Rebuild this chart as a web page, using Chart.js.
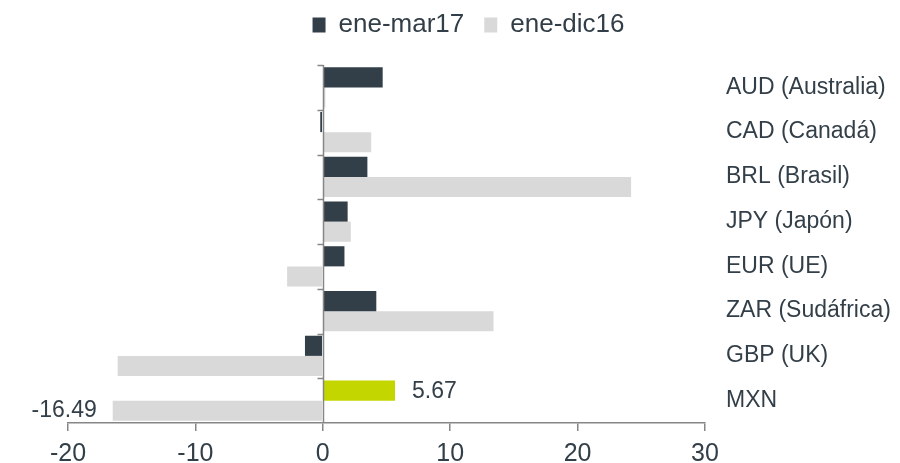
<!DOCTYPE html>
<html>
<head>
<meta charset="utf-8">
<script src="https://cdn.jsdelivr.net/npm/chart.js@4/dist/chart.umd.min.js"></script>
<style>
  html, body { margin: 0; padding: 0; background: #ffffff; }
  #wrap { width: 900px; height: 463px; }
</style>
</head>
<body>
<div id="wrap"><canvas id="c" width="900" height="463"></canvas></div>
<script>
const categories = ['AUD (Australia)', 'CAD (Canadá)', 'BRL (Brasil)', 'JPY (Japón)', 'EUR (UE)', 'ZAR (Sudáfrica)', 'GBP (UK)', 'MXN'];
const seriesNames = ['ene-mar17', 'ene-dic16'];
const eneMar17 = [4.7, -0.2, 3.5, 1.95, 1.7, 4.2, -1.4, 5.67];
const eneDic16 = [0.2, 3.8, 24.2, 2.2, -2.8, 13.4, -16.1, -16.49];
const xTicks = [-20, -10, 0, 10, 20, 30];
const labelledPoints = [{ dataset: 0, index: 7 }, { dataset: 1, index: 7 }];

const DARK = '#333f48';
const LIGHT = '#d9d9d9';
const GREEN = '#c4d600';
const AXIS = '#868686';
const TEXT = '#333f48';
const FONT = 'Liberation Sans, Arial, sans-serif';

const darkColors = categories.map(c => c === 'MXN' ? GREEN : DARK);

const zeroAxisPlugin = {
  id: 'zeroAxis',
  afterDatasetsDraw(chart) {
    const { ctx, chartArea, scales } = chart;
    const x0 = Math.round(scales.x.getPixelForValue(0)) + 0.5;
    const n = categories.length;
    const h = (chartArea.bottom - chartArea.top) / n;
    ctx.save();
    ctx.strokeStyle = AXIS;
    ctx.lineWidth = 1.5;
    ctx.beginPath();
    ctx.moveTo(x0, chartArea.top);
    ctx.lineTo(x0, chartArea.bottom);
    for (let i = 0; i < n; i++) {
      const y = Math.round(chartArea.top + i * h) + 0.5;
      ctx.moveTo(x0 - 6, y);
      ctx.lineTo(x0, y);
    }
    ctx.stroke();
    ctx.restore();
  },
  afterDraw(chart) {
    const { ctx } = chart;
    ctx.save();
    ctx.font = '23px ' + FONT;
    ctx.fillStyle = TEXT;
    ctx.textBaseline = 'middle';
    labelledPoints.forEach(p => {
      const meta = chart.getDatasetMeta(p.dataset);
      const el = meta.data[p.index];
      const v = chart.data.datasets[p.dataset].data[p.index];
      const txt = v.toFixed(2);
      if (v >= 0) {
        ctx.textAlign = 'left';
        ctx.fillText(txt, el.x + 17, el.y + 1);
      } else {
        ctx.textAlign = 'right';
        ctx.fillText(txt, el.x - 16, el.y);
      }
    });
    ctx.restore();
  }
};

new Chart(document.getElementById('c'), {
  type: 'bar',
  data: {
    labels: categories,
    datasets: [
      { label: seriesNames[0], data: eneMar17, backgroundColor: darkColors, borderWidth: 0 },
      { label: seriesNames[1], data: eneDic16, backgroundColor: LIGHT, borderWidth: 0 }
    ]
  },
  options: {
    indexAxis: 'y',
    responsive: false,
    animation: false,
    devicePixelRatio: 1,
    layout: { padding: { left: 44, right: 7, top: -8, bottom: 0 } },
    datasets: { bar: { categoryPercentage: 0.9, barPercentage: 1.0 } },
    plugins: {
      legend: {
        position: 'top',
        weight: 3000,
        labels: {
          color: TEXT,
          font: { family: FONT, size: 26 },
          boxWidth: 13,
          boxHeight: 15,
          padding: 20
        }
      },
      title: {
        display: true,
        text: '',
        font: { size: 1, lineHeight: 1 },
        padding: { top: 0, bottom: 16 }
      },
      tooltip: { enabled: false }
    },
    scales: {
      x: {
        type: 'linear',
        min: -20,
        max: 30,
        afterBuildTicks(axis) { axis.ticks = xTicks.map(v => ({ value: v })); },
        afterFit(axis) { axis.height = 40; axis.paddingLeft = 68; },
        grid: { display: true, drawOnChartArea: false, drawTicks: true, tickLength: 8, color: AXIS, lineWidth: 1.5 },
        border: { display: true, color: AXIS, width: 1.5 },
        ticks: { color: TEXT, font: { family: FONT, size: 25 }, padding: 8, maxRotation: 0 }
      },
      y: {
        position: 'right',
        afterFit(axis) { axis.width = 188; },
        grid: { display: false, drawTicks: false },
        border: { display: false },
        ticks: { color: TEXT, font: { family: FONT, size: 23 }, padding: 21, crossAlign: 'near' }
      }
    }
  },
  plugins: [zeroAxisPlugin]
});
</script>
</body>
</html>
